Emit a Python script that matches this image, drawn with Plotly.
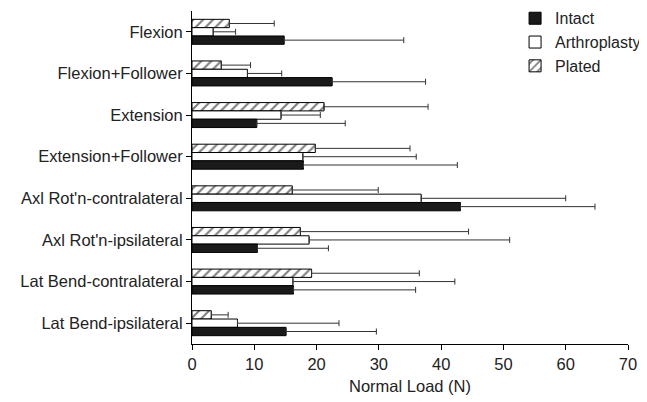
import plotly.graph_objects as go

categories = ["Flexion", "Flexion+Follower", "Extension", "Extension+Follower",
              "Axl Rot'n-contralateral", "Axl Rot'n-ipsilateral",
              "Lat Bend-contralateral", "Lat Bend-ipsilateral"]

intact = [14.8, 22.5, 10.4, 17.9, 43.1, 10.5, 16.3, 15.1]
intact_err_top = [34.0, 37.5, 24.6, 42.6, 64.7, 21.9, 35.9, 29.6]

arthroplasty = [3.4, 8.9, 14.3, 17.8, 36.8, 18.8, 16.2, 7.3]
arthroplasty_err_top = [7.0, 14.4, 20.6, 36.0, 60.0, 51.0, 42.2, 23.6]

plated = [6.0, 4.7, 21.2, 19.8, 16.1, 17.4, 19.2, 3.1]
plated_err_top = [13.2, 9.4, 37.9, 35.0, 29.9, 44.4, 36.5, 5.8]

def err(vals, tops):
    return [t - v for v, t in zip(vals, tops)]

font = "Liberation Sans, Arial, sans-serif"
fig = go.Figure()

def err_style(vals, tops):
    return dict(type="data", symmetric=False, array=err(vals, tops),
                color="#333333", thickness=1, width=3)

fig.add_trace(go.Bar(
    name="Plated", y=categories, x=plated, orientation="h",
    marker=dict(color="white", line=dict(color="black", width=1),
                pattern=dict(shape="/", fgcolor="black", bgcolor="white", size=7, solidity=0.3)),
    error_x=err_style(plated, plated_err_top), legendrank=3))
fig.add_trace(go.Bar(
    name="Arthroplasty", y=categories, x=arthroplasty, orientation="h",
    marker=dict(color="white", line=dict(color="black", width=1)),
    error_x=err_style(arthroplasty, arthroplasty_err_top), legendrank=2))
fig.add_trace(go.Bar(
    name="Intact", y=categories, x=intact, orientation="h",
    marker=dict(color="#1a1a1a", line=dict(color="black", width=1)),
    error_x=err_style(intact, intact_err_top), legendrank=1))

fig.update_layout(
    width=639, height=394,
    margin=dict(l=184, r=19, t=3, b=58, autoexpand=False),
    paper_bgcolor="white", plot_bgcolor="white",
    barmode="group", bargap=0.4, bargroupgap=0,
    font=dict(family=font, size=16.5, color="#222222"),
    legend=dict(x=0.741, y=1.029, xanchor="left", yanchor="top",
                bgcolor="rgba(0,0,0,0)", font=dict(size=16),
                tracegroupgap=0, itemwidth=30),
    xaxis=dict(range=[0, 70], dtick=10, showgrid=False, zeroline=False,
               showline=True, linecolor="black", linewidth=1,
               ticks="outside", ticklen=5, tickcolor="black",
               tickfont=dict(size=16.5),
               title=dict(text="Normal Load (N)", standoff=8, font=dict(size=16.5))),
    yaxis=dict(autorange="reversed", showgrid=False, zeroline=False,
               showline=True, linecolor="black", linewidth=1,
               ticks="outside", ticklen=5, tickcolor="black",
               tickfont=dict(size=16.5)),
)

fig.write_html("out.html")
